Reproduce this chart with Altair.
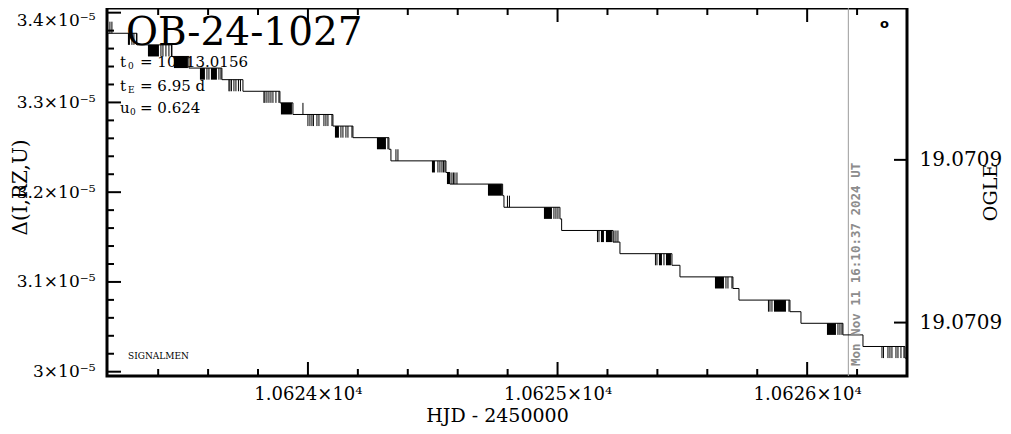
import altair as alt
import pandas as pd

UNIT = 1e-5  # left-axis values are stored in units of 1e-5

# quantised levels the curve jumps between (units of 1e-5), top to bottom
levels = [3.38998, 3.37705, 3.36413, 3.35120, 3.33828, 3.32535, 3.31243, 3.29950,
          3.28658, 3.27365, 3.26073, 3.24780, 3.23488, 3.22195, 3.20903, 3.19610,
          3.18318, 3.17025, 3.15733, 3.14440, 3.13148, 3.11855, 3.10563, 3.09270,
          3.07978, 3.06685, 3.05393, 3.04100, 3.02808, 3.01515]

# staircase: HJD where the curve moves to a new level (index into levels)
step_hjd = [10623.195, 10623.3149, 10623.4551, 10623.5232, 10623.6554, 10623.7396,
            10623.8878, 10623.9399, 10624.1002, 10624.1803, 10624.3245, 10624.3325,
            10624.5529, 10624.5689, 10624.7800, 10624.7853, 10625.0096, 10625.0164,
            10625.2220, 10625.2500, 10625.4583, 10625.4904, 10625.7027, 10625.7268,
            10625.9311, 10625.9752, 10626.1434, 10626.2236, 10626.3918, 10626.4000]
step_level = [1, 2, 3, 4, 5, 6, 7, 8, 9, 10, 11, 12, 13, 14, 15, 16, 17, 18, 19, 20,
              21, 22, 23, 24, 25, 26, 27, 28, 29, 29]

# dense flicker between a level and the next one (start, end, upper level index)
block_start = [10623.2788, 10623.3590, 10623.4631, 10623.5673, 10623.6114, 10623.8918,
               10624.1082, 10624.2764, 10624.4968, 10624.5569, 10624.7212, 10624.9455,
               10625.1739, 10625.1939, 10625.4062, 10625.4343, 10625.6306, 10625.8670,
               10626.0793]
block_end = [10623.2869, 10623.4031, 10623.5192, 10623.5873, 10623.6354, 10623.9359,
             10624.1242, 10624.3125, 10624.5088, 10624.5689, 10624.7772, 10624.9776,
             10625.1859, 10625.2179, 10625.4183, 10625.4543, 10625.6667, 10625.9151,
             10626.1154]
block_level = [1, 2, 3, 4, 4, 7, 9, 10, 12, 13, 14, 16, 18, 18, 20, 20, 22, 24, 26]

# single flicker spikes (HJD, upper level index)
spike_hjd = [10623.2067, 10623.2147,
             10623.2949, 10623.3029, 10623.3129,
             10623.4111, 10623.4191, 10623.4311, 10623.4431, 10623.4531,
             10623.5954, 10623.6034, 10623.6434, 10623.6514,
             10623.6835, 10623.6875, 10623.6935, 10623.7035, 10623.7115, 10623.7216, 10623.7296,
             10623.8237, 10623.8277, 10623.8357, 10623.8438, 10623.8518, 10623.8598, 10623.8718, 10623.8838,
             10623.9800,
             10624.0000, 10624.0080, 10624.0160, 10624.0220, 10624.0361, 10624.0441, 10624.0641, 10624.0721, 10624.0801, 10624.0962,
             10624.1322, 10624.1402, 10624.1522, 10624.1603, 10624.1763,
             10624.3205,
             10624.3526, 10624.3606,
             10624.5208, 10624.5288, 10624.5369, 10624.5429, 10624.5489,
             10624.5769, 10624.5829, 10624.5889, 10624.5970,
             10624.7993, 10624.8073,
             10624.9856, 10624.9936, 10625.0016,
             10625.1599, 10625.1659, 10625.2260, 10625.2340, 10625.2420,
             10625.3922, 10625.3982, 10625.4263,
             10625.6747, 10625.6827, 10625.6987,
             10625.8449, 10625.8510, 10625.8590, 10625.9271,
             10626.1234, 10626.1314, 10626.1394,
             10626.2997, 10626.3057, 10626.3237, 10626.3317, 10626.3397, 10626.3558, 10626.3638, 10626.3758, 10626.3878]
spike_level = [0, 0,
               1, 1, 1,
               2, 2, 2, 2, 2,
               4, 4, 4, 4,
               5, 5, 5, 5, 5, 5, 5,
               6, 6, 6, 6, 6, 6, 6, 6,
               7,
               8, 8, 8, 8, 8, 8, 8, 8, 8, 8,
               9, 9, 9, 9, 9,
               10,
               11, 11,
               12, 12, 12, 12, 12,
               13, 13, 13, 13,
               15, 15,
               16, 16, 16,
               18, 18, 18, 18, 18,
               20, 20, 20,
               22, 22, 22,
               24, 24, 24, 24,
               26, 26, 26,
               28, 28, 28, 28, 28, 28, 28, 28, 28]

# axes
x_major = [10624, 10625, 10626]
x_minor = [10623.4, 10623.6, 10623.8, 10624.2, 10624.4, 10624.6, 10624.8,
           10625.2, 10625.4, 10625.6, 10625.8, 10626.2]
y_major = [3.0, 3.1, 3.2, 3.3, 3.4]
y_minor = [3.02, 3.04, 3.06, 3.08, 3.12, 3.14, 3.16, 3.18, 3.22, 3.24, 3.26, 3.28,
           3.32, 3.34, 3.36, 3.38]
ogle_ticks = [19.07087, 19.07093]
now_hjd = [10626.165]

# texts
event_name = "OB-24-1027"
param_symbols = ["t", "t", "u"]
param_subscripts = ["0", "E", "0"]
param_values = ["= 10513.0156", "= 6.95 d", "= 0.624"]
credit = "SIGNALMEN"
stamp = "Mon Nov 11 16:10:37 2024 UT"
marker = "o"

W, H = 800, 368
SERIF = "DejaVu Serif"

line_df = pd.DataFrame({"hjd": step_hjd, "delta": [levels[i] * UNIT for i in step_level]})
block_df = pd.DataFrame({"start": block_start, "end": block_end,
                         "top": [levels[i] * UNIT for i in block_level],
                         "bottom": [levels[i + 1] * UNIT for i in block_level]})
spike_df = pd.DataFrame({"hjd": spike_hjd,
                         "top": [levels[i] * UNIT for i in spike_level],
                         "bottom": [levels[i + 1] * UNIT for i in spike_level]})

xs = alt.Scale(domain=[10623.195, 10626.40], nice=False, zero=False)
ys = alt.Scale(domain=[2.9952e-5, 3.4052e-5], nice=False, zero=False)

xax = alt.Axis(orient="bottom", values=x_major,
               labelExpr="format(datum.value / 10000, '.4f') + '×10⁴'",
               ticks=False, domain=False, grid=False, labelFont=SERIF, labelFontSize=18,
               labelColor="black", labelPadding=9, labelBaseline="top", labelFlush=False,
               title="HJD - 2450000", titleFont=SERIF, titleFontSize=19,
               titleFontWeight="normal", titleColor="black", titleX=390, titleY=45,
               titleBaseline="alphabetic", titleAlign="center")
yax = alt.Axis(orient="left", values=[v * UNIT for v in y_major],
               labelExpr="format(datum.value * 100000, '.2~g') + '×10⁻⁵'",
               labelBaseline={"condition": {"test": "datum.value > 3.35e-5", "value": "top"},
                              "value": "middle"},
               ticks=False, domain=False, grid=False, labelFont=SERIF, labelFontSize=17,
               labelColor="black", labelPadding=12, labelFlush=False,
               title="Δ(I,RZ,U)", titleFont=SERIF, titleFontSize=20,
               titleFontWeight="normal", titleColor="black", titleAngle=270,
               titleX=-81, titleY=179, titleBaseline="alphabetic", titleAlign="center")
oax = alt.Axis(orient="right", values=ogle_ticks, labelExpr="format(datum.value, '.4f')",
               ticks=False, domain=False, grid=False, labelFont=SERIF, labelFontSize=20,
               labelColor="black", labelPadding=12, labelFlush=False,
               title="OGLE", titleFont=SERIF, titleFontSize=19, titleFontWeight="normal",
               titleColor="black", titleAngle=270, titleX=89, titleY=184,
               titleBaseline="alphabetic", titleAlign="center")


def X(field):
    return alt.X(field, type="quantitative", scale=xs, axis=xax)


def Y(field):
    return alt.Y(field, type="quantitative", scale=ys, axis=yax)


line = alt.Chart(line_df).mark_line(interpolate="step-after", color="black",
                                    strokeWidth=1).encode(x=X("hjd"), y=Y("delta"))
blocks = alt.Chart(block_df).mark_rect(color="black").encode(
    x=X("start"), x2=alt.X2("end"), y=Y("top"), y2=alt.Y2("bottom"))
spikes = alt.Chart(spike_df).mark_rule(color="black", strokeWidth=1).encode(
    x=X("hjd"), y=Y("top"), y2=alt.Y2("bottom"))
now = alt.Chart(pd.DataFrame({"hjd": now_hjd})).mark_rule(
    color="#9c9c9c", strokeWidth=1).encode(x=X("hjd"))

xmaj_df = pd.DataFrame({"v": x_major})
xmin_df = pd.DataFrame({"v": x_minor})
ymaj_df = pd.DataFrame({"v": [v * UNIT for v in y_major]})
ymin_df = pd.DataFrame({"v": [v * UNIT for v in y_minor]})

tick_layers = [
    alt.Chart(xmaj_df).mark_rule(color="black", strokeWidth=2).encode(
        x=X("v"), y=alt.value(H), y2=alt.value(H - 14)),
    alt.Chart(xmin_df).mark_rule(color="black", strokeWidth=2).encode(
        x=X("v"), y=alt.value(H), y2=alt.value(H - 7)),
    alt.Chart(xmaj_df).mark_rule(color="black", strokeWidth=2).encode(
        x=X("v"), y=alt.value(0), y2=alt.value(14)),
    alt.Chart(xmin_df).mark_rule(color="black", strokeWidth=2).encode(
        x=X("v"), y=alt.value(0), y2=alt.value(7)),
    alt.Chart(ymaj_df).mark_rule(color="black", strokeWidth=2).encode(
        y=Y("v"), x=alt.value(0), x2=alt.value(14)),
    alt.Chart(ymin_df).mark_rule(color="black", strokeWidth=2).encode(
        y=Y("v"), x=alt.value(0), x2=alt.value(7)),
]


def txt(s, x, y, **kw):
    props = dict(align="left", baseline="alphabetic", color="black", font=SERIF)
    props.update(kw)
    return alt.Chart(pd.DataFrame({"s": [s]})).mark_text(**props).encode(
        text="s:N", x=alt.value(x), y=alt.value(y))


text_layers = [txt(event_name, 19, 37, fontSize=39)]
bases = [58.7, 82.7, 105.3]
sub_x = [21, 21, 23]
for i in range(3):
    text_layers.append(txt(param_symbols[i], 13, bases[i], fontSize=15))
    text_layers.append(txt(param_subscripts[i], sub_x[i], bases[i] + 2, fontSize=9))
    text_layers.append(txt(param_values[i], 33, bases[i], fontSize=15))
text_layers.append(txt(credit, 21, 351, fontSize=9))
text_layers.append(txt(marker, 777.5, 15.5, align="center", baseline="middle",
                       font="DejaVu Sans", fontSize=13, fontWeight="bold"))
text_layers.append(txt(stamp, 752.5, 358, angle=270, font="DejaVu Sans Mono",
                       fontSize=12.5, fontWeight="bold", color="#8c8c8c"))

inner = alt.layer(now, line, blocks, spikes, *tick_layers, *text_layers)

ogle = alt.Chart(pd.DataFrame({"v": ogle_ticks})).mark_rule(color="black", strokeWidth=2).encode(
    y=alt.Y("v", type="quantitative",
            scale=alt.Scale(domain=[19.070814, 19.0709497], reverse=True, nice=False, zero=False),
            axis=oax),
    x=alt.value(W), x2=alt.value(W - 13))

chart = alt.layer(inner, ogle).resolve_scale(y="independent").properties(
    width=W, height=H,
    padding={"left": 99, "top": 0, "right": 96, "bottom": 50},
    autosize=alt.AutoSizeParams(type="none"),
).configure_view(stroke="black", strokeWidth=3)

chart.save("out.html", embed_options={"renderer": "svg", "actions": False})
